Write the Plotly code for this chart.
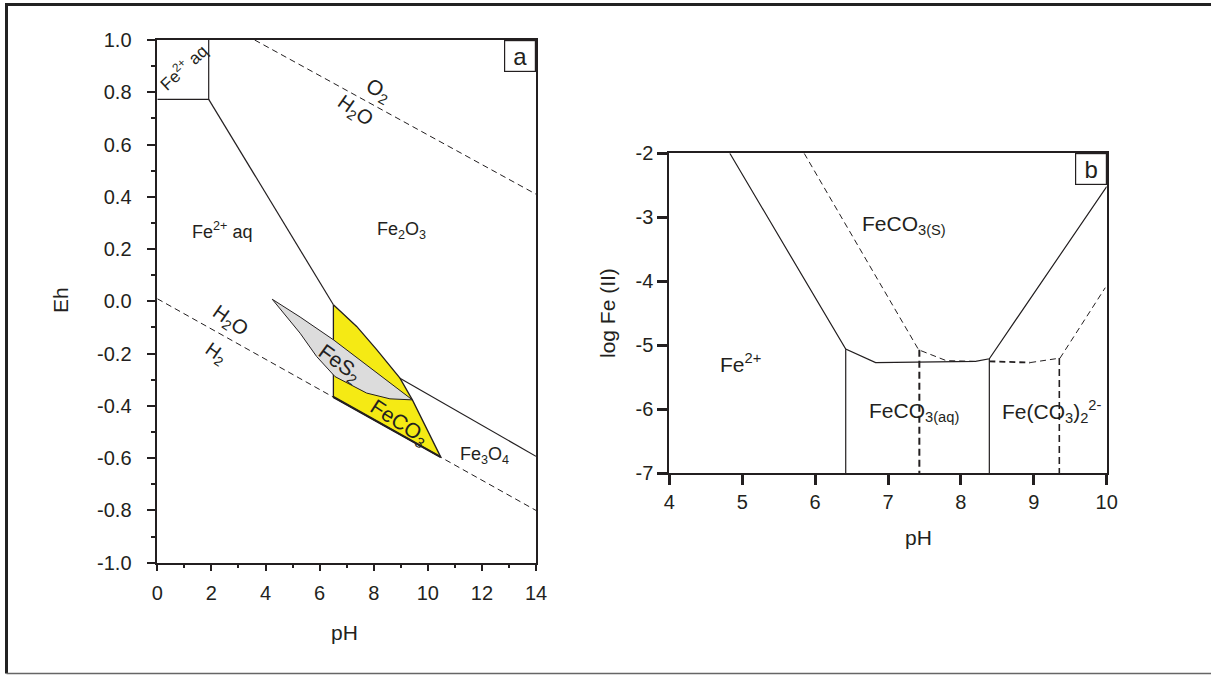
import plotly.graph_objects as go

# ---------------- Panel a data (pH, Eh) ----------------
feco3_ph = [6.51, 7.37, 8.11, 8.72, 8.97, 9.43, 10.48, 6.51, 6.51]
feco3_eh = [-0.013, -0.096, -0.185, -0.262, -0.294, -0.377, -0.596, -0.366, -0.013]

fes2_ph = [4.25, 5.28, 6.51, 7.74, 8.70, 9.43, 8.60, 7.74, 6.57, 5.89, 5.28, 4.78, 4.25]
fes2_eh = [0.008, -0.060, -0.147, -0.244, -0.318, -0.377, -0.373, -0.351, -0.288, -0.211, -0.122, -0.058, 0.008]

box_ph = [0.0, 1.9, 1.9]
box_eh = [0.773, 0.773, 1.0]

fe2_fe2o3_ph = [1.9, 6.51]
fe2_fe2o3_eh = [0.773, -0.013]

fe2o3_fe3o4_ph = [8.97, 14.0]
fe2o3_fe3o4_eh = [-0.294, -0.593]

o2_h2o_ph = [3.6, 14.0]
o2_h2o_eh = [1.0, 0.41]

h2o_h2_ph = [0.0, 14.0]
h2o_h2_eh = [0.01, -0.80]

a_xticks = [0, 2, 4, 6, 8, 10, 12, 14]
a_xtext = ["0", "2", "4", "6", "8", "10", "12", "14"]
a_yticks = [1.0, 0.8, 0.6, 0.4, 0.2, 0.0, -0.2, -0.4, -0.6, -0.8, -1.0]
a_ytext = ["1.0", "0.8", "0.6", "0.4", "0.2", "0.0", "-0.2", "-0.4", "-0.6", "-0.8", "-1.0"]

# ---------------- Panel b data (pH, log Fe(II)) ----------------
b_solid_ph = [4.83, 6.42, 6.83, 8.20, 8.39, 10.0]
b_solid_lg = [-2.0, -5.06, -5.27, -5.25, -5.21, -2.52]
b_vert1_ph = [6.42, 6.42]
b_vert1_lg = [-5.06, -7.0]
b_vert2_ph = [8.39, 8.39]
b_vert2_lg = [-5.21, -7.0]

b_dash1_ph = [5.85, 7.42, 7.80, 8.20]
b_dash1_lg = [-2.0, -5.07, -5.24, -5.25]
b_dash2_ph = [8.39, 8.95]
b_dash2_lg = [-5.25, -5.27]
b_dash3_ph = [8.95, 9.36, 9.98]
b_dash3_lg = [-5.27, -5.20, -4.10]
b_vdash1_ph = [7.43, 7.43]
b_vdash1_lg = [-5.07, -7.0]
b_vdash2_ph = [9.35, 9.35]
b_vdash2_lg = [-5.20, -7.0]

b_xticks = [4, 5, 6, 7, 8, 9, 10]
b_xtext = ["4", "5", "6", "7", "8", "9", "10"]
b_yticks = [-2, -3, -4, -5, -6, -7]
b_ytext = ["-2", "-3", "-4", "-5", "-6", "-7"]

FONT = "Liberation Sans, Arial, sans-serif"
INK = "#231f20"
YELLOW = "#f5ea14"
GREY = "#dcdcdc"

fig = go.Figure()


def line(x, y, xa, ya, width=1.2, dash="solid"):
    fig.add_trace(go.Scatter(x=x, y=y, mode="lines", xaxis=xa, yaxis=ya,
                             line=dict(color=INK, width=width, dash=dash),
                             hoverinfo="skip", showlegend=False))


# Panel a
fig.add_trace(go.Scatter(x=feco3_ph, y=feco3_eh, mode="lines", fill="toself",
                         fillcolor=YELLOW, line=dict(color=INK, width=1.3),
                         xaxis="x", yaxis="y", showlegend=False, hoverinfo="skip"))
fig.add_trace(go.Scatter(x=fes2_ph, y=fes2_eh, mode="lines", fill="toself",
                         fillcolor=GREY, line=dict(color=INK, width=1),
                         xaxis="x", yaxis="y", showlegend=False, hoverinfo="skip"))
line(box_ph, box_eh, "x", "y")
line(fe2_fe2o3_ph, fe2_fe2o3_eh, "x", "y")
line(fe2o3_fe3o4_ph, fe2o3_fe3o4_eh, "x", "y")
line(o2_h2o_ph, o2_h2o_eh, "x", "y", width=1, dash="6px,4px")
line(h2o_h2_ph, h2o_h2_eh, "x", "y", width=1, dash="6px,4px")
line([feco3_ph[7], feco3_ph[6]], [feco3_eh[7], feco3_eh[6]], "x", "y", width=2.2)

# Panel b
line(b_solid_ph, b_solid_lg, "x2", "y2")
line(b_vert1_ph, b_vert1_lg, "x2", "y2")
line(b_vert2_ph, b_vert2_lg, "x2", "y2")
line(b_dash1_ph, b_dash1_lg, "x2", "y2", width=1, dash="6px,4px")
line(b_dash2_ph, b_dash2_lg, "x2", "y2", width=1.8, dash="6px,4px")
line(b_dash3_ph, b_dash3_lg, "x2", "y2", width=1, dash="6px,4px")
line(b_vdash1_ph, b_vdash1_lg, "x2", "y2", width=2, dash="7px,4px")
line(b_vdash2_ph, b_vdash2_lg, "x2", "y2", width=1.6, dash="7px,4px")

W, H = 1211, 675

axis_common = dict(showgrid=False, zeroline=False, showline=True, linecolor=INK,
                   mirror=True, ticks="outside", tickcolor=INK, automargin=False,
                   tickfont=dict(family=FONT, size=20, color=INK), tickmode="array")

fig.update_layout(
    width=W, height=H, margin=dict(l=0, r=0, t=0, b=0, pad=0, autoexpand=False),
    paper_bgcolor="white", plot_bgcolor="white", showlegend=False,
    xaxis=dict(domain=[157.3 / W, 536 / W], range=[0, 14], anchor="y",
               tickvals=a_xticks, ticktext=a_xtext, ticklen=7, tickwidth=1.5,
               linewidth=1.5, ticklabelstandoff=5,
               minor=dict(dtick=1, ticks="outside", ticklen=4, tickwidth=1.5, tickcolor=INK),
               **axis_common),
    yaxis=dict(domain=[1 - 562.7 / H, 1 - 40 / H], range=[-1, 1], anchor="x",
               tickvals=a_yticks, ticktext=a_ytext, ticklen=9, tickwidth=1.5,
               linewidth=1.5, ticklabelstandoff=11,
               minor=dict(dtick=0.1, ticks="outside", ticklen=5, tickwidth=1.5, tickcolor=INK),
               **axis_common),
    xaxis2=dict(domain=[669.3 / W, 1106.7 / W], range=[4, 10], anchor="y2",
                tickvals=b_xticks, ticktext=b_xtext, ticklen=10, tickwidth=3,
                linewidth=2, ticklabelstandoff=0, **axis_common),
    yaxis2=dict(domain=[1 - 473.3 / H, 1 - 153.3 / H], range=[-7, -2], anchor="x2",
                tickvals=b_yticks, ticktext=b_ytext, ticklen=10, tickwidth=3,
                linewidth=2, ticklabelstandoff=0, **axis_common),
)


def ann(text, x, y, xa="x", ya="y", size=19, angle=0):
    fig.add_annotation(text=text, x=x, y=y, xref=xa, yref=ya, showarrow=False,
                       textangle=angle, font=dict(family=FONT, size=size, color=INK),
                       xanchor="center", yanchor="middle")


# Panel a labels
ann("Fe<sup>2+</sup> aq", 0.95, 0.895, size=17, angle=-43)
ann("Fe<sup>2+</sup> aq", 2.41, 0.273, size=18)
ann("Fe<sub>2</sub>O<sub>3</sub>", 9.04, 0.27, size=18)
ann("O<sub>2</sub>", 8.19, 0.806, size=21, angle=28)
ann("H<sub>2</sub>O", 7.31, 0.726, size=20, angle=35)
ann("H<sub>2</sub>O", 2.69, -0.077, size=20, angle=35)
ann("H<sub>2</sub>", 2.16, -0.201, size=19, angle=35)
ann("FeS<sub>2</sub>", 6.75, -0.239, size=21, angle=36)
ann("FeCO<sub>3</sub>", 8.94, -0.465, size=21, angle=33)
ann("Fe<sub>3</sub>O<sub>4</sub>", 12.08, -0.59, size=18)

# Panel b labels
ann("FeCO<sub>3(S)</sub>", 7.22, -3.12, "x2", "y2", size=21)
ann("Fe<sup>2+</sup>", 4.97, -5.28, "x2", "y2", size=21)
ann("FeCO<sub>3(aq)</sub>", 7.36, -6.04, "x2", "y2", size=21)
ann("Fe(CO<sub>3</sub>)<sub>2</sub><sup>2-</sup>", 9.25, -6.04, "x2", "y2", size=21)

# Panel letters
for letter, xa, ya in (("a", "x domain", "y domain"), ("b", "x2 domain", "y2 domain")):
    fig.add_annotation(text=letter, x=1, y=1, xref=xa, yref=ya, xanchor="right",
                       yanchor="top", showarrow=False, width=30, height=30,
                       bordercolor=INK, borderwidth=1.2, borderpad=0, bgcolor="white",
                       font=dict(family=FONT, size=24, color=INK))

# Axis titles (paper coords)
def title(text, px, py, angle=0, size=21):
    fig.add_annotation(text=text, x=px / W, y=1 - py / H, xref="paper", yref="paper",
                       showarrow=False, textangle=angle,
                       font=dict(family=FONT, size=size, color=INK),
                       xanchor="center", yanchor="middle")

title("Eh", 60, 300, angle=-90)
title("pH", 344, 632)
title("log Fe (II)", 607, 313, angle=-90)
title("pH", 918, 537)

# Outer frame
fig.add_shape(type="line", xref="paper", yref="paper", x0=5 / W, x1=1, y0=1 - 4.5 / H,
              y1=1 - 4.5 / H, line=dict(color="#222222", width=3))
fig.add_shape(type="line", xref="paper", yref="paper", x0=6.5 / W, x1=6.5 / W,
              y0=1 - 673.5 / H, y1=1 - 4 / H, line=dict(color="#222222", width=3))
fig.add_shape(type="line", xref="paper", yref="paper", x0=6.5 / W, x1=1,
              y0=1 - 673.5 / H, y1=1 - 673.5 / H, line=dict(color="#666666", width=1.5))

fig.write_html("out.html",
               post_script="document.body.style.margin='0';document.body.style.overflow='hidden';")
